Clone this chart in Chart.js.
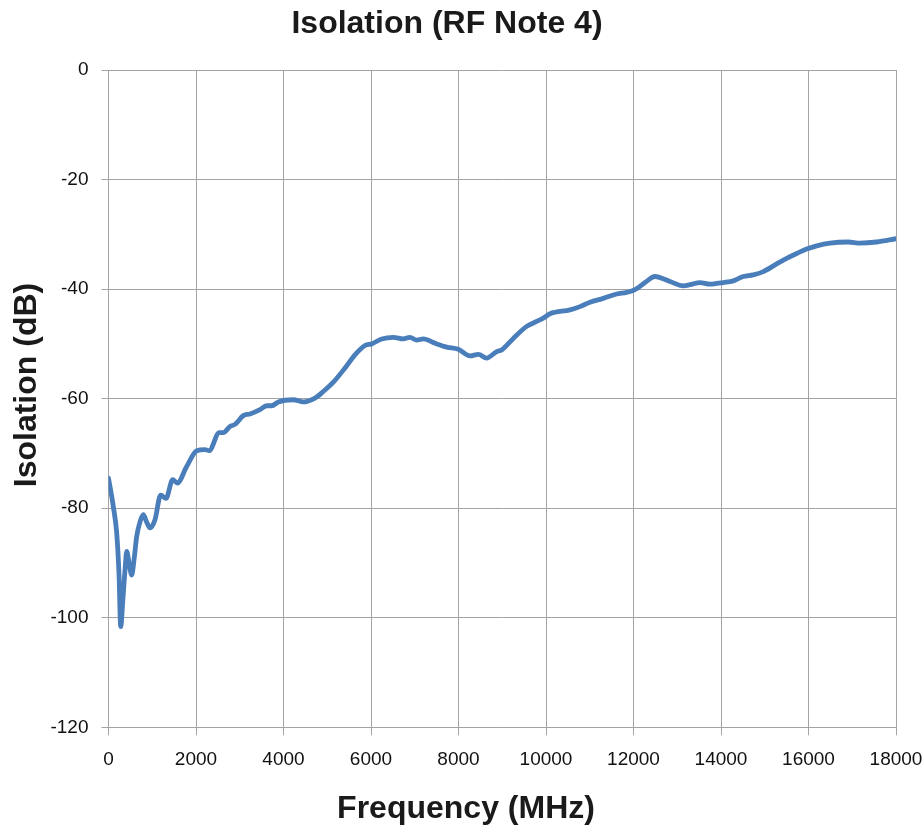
<!DOCTYPE html>
<html>
<head>
<meta charset="utf-8">
<script src="https://cdn.jsdelivr.net/npm/chart.js@4.4.1/dist/chart.umd.min.js"></script>
<style>
  html, body { margin: 0; padding: 0; background: #ffffff; }
  #c { display: block; }
</style>
</head>
<body>
<canvas id="c" width="923" height="829"></canvas>
<script>
const chartTitle = "Isolation (RF Note 4)";
const xAxisTitle = "Frequency (MHz)";
const yAxisTitle = "Isolation (dB)";

const frequencyMHz = [
  0, 110, 187, 240, 279, 330, 380, 416, 470, 530, 590, 644, 720, 796, 870, 949,
  1063, 1193, 1314, 1467, 1573, 1787, 2016, 2206, 2300, 2533, 2624, 2777, 2891,
  3082, 3234, 3463, 3616, 3730, 3882, 4224, 4453, 4720, 4910, 5139, 5406, 5634,
  5863, 6016, 6245, 6510, 6739, 6891, 7044, 7196, 7463, 7730, 7996, 8263, 8453,
  8644, 8873, 8987, 9253, 9558, 9787, 9939, 10091, 10549, 10777, 11006, 11310,
  11615, 11844, 12034, 12263, 12491, 12606, 12834, 13139, 13291, 13520, 13749,
  13939, 14053, 14282, 14510, 14739, 14967, 15272, 15501, 15730, 15958, 16187,
  16491, 16910, 17177, 17558, 18000
];
const isolationDb = [
  -74.5, -79.7, -84.5, -92.0, -101.6, -96.5, -91.0, -87.9, -90.0, -92.2, -89.0, -85.2, -82.5, -81.2, -82.5, -83.6,
  -82.1, -77.6, -78.2, -74.8, -75.4, -72.4, -69.5, -69.3, -69.5, -66.2, -66.2, -65.1, -64.7,
  -63.1, -62.8, -62.0, -61.3, -61.3, -60.6, -60.2, -60.6, -59.9, -58.7, -57.0, -54.4, -52.0,
  -50.3, -50.0, -49.1, -48.8, -49.1, -48.8, -49.3, -49.1, -49.9, -50.6, -51.0, -52.2, -51.9,
  -52.6, -51.4, -51.1, -49.0, -46.8, -45.9, -45.3, -44.5, -43.8, -43.2, -42.4, -41.7,
  -40.9, -40.6, -40.1, -38.8, -37.7, -37.9, -38.6, -39.4, -39.2, -38.8, -39.1,
  -38.9, -38.8, -38.5, -37.7, -37.4, -36.8, -35.4, -34.4, -33.5, -32.7, -32.1,
  -31.6, -31.4, -31.6, -31.4, -30.8
];
const xTickValues = [0, 2000, 4000, 6000, 8000, 10000, 12000, 14000, 16000, 18000];
const yTickValues = [-120, -100, -80, -60, -40, -20, 0];

const points = frequencyMHz.map((f, i) => ({ x: f, y: isolationDb[i] }));

const gridColor = '#a3a3a3';
const tickFont = { family: "'Liberation Sans', Arial, sans-serif", size: 19 };

const titlesPlugin = {
  id: 'titles',
  afterDraw(chart) {
    const ctx = chart.ctx;
    ctx.save();
    ctx.fillStyle = '#1a1a1a';
    ctx.font = "bold 32px 'Liberation Sans', Arial, sans-serif";
    ctx.textAlign = 'center';
    ctx.textBaseline = 'alphabetic';
    ctx.fillText(chartTitle, 447, 33);
    ctx.fillText(xAxisTitle, 466, 818);
    ctx.translate(36, 385);
    ctx.rotate(-Math.PI / 2);
    ctx.fillText(yAxisTitle, 0, 0);
    ctx.restore();
  }
};

new Chart(document.getElementById('c'), {
  type: 'line',
  data: {
    datasets: [{
      data: points,
      borderColor: '#4a7ebb',
      borderWidth: 4.8,
      pointRadius: 0,
      fill: false,
      cubicInterpolationMode: 'monotone',
      borderCapStyle: 'round',
      borderJoinStyle: 'round'
    }]
  },
  options: {
    responsive: false,
    animation: false,
    devicePixelRatio: 1,
    layout: { padding: { left: 0, right: 27, top: 70, bottom: 0 } },
    plugins: {
      legend: { display: false },
      title: { display: false },
      tooltip: { enabled: false }
    },
    scales: {
      x: {
        type: 'linear',
        min: 0,
        max: 18000,
        afterBuildTicks(scale) { scale.ticks = xTickValues.map(v => ({ value: v })); },
        afterFit(scale) { scale.height = 101.7; scale.paddingLeft = 0; scale.paddingRight = 0; },
        grid: { color: gridColor, lineWidth: 1, tickLength: 8, drawTicks: true },
        border: { color: gridColor, width: 1 },
        ticks: {
          color: '#111111',
          font: tickFont,
          padding: 13,
          maxRotation: 0,
          autoSkip: false,
          callback: v => String(v)
        }
      },
      y: {
        type: 'linear',
        min: -120,
        max: 0,
        afterBuildTicks(scale) { scale.ticks = yTickValues.map(v => ({ value: v })); },
        afterFit(scale) { scale.width = 108.5; scale.paddingTop = 0; scale.paddingBottom = 0; },
        grid: { color: gridColor, lineWidth: 1, tickLength: 7, drawTicks: true },
        border: { color: gridColor, width: 1 },
        ticks: {
          color: '#111111',
          font: tickFont,
          padding: 13,
          autoSkip: false,
          callback: v => String(v)
        }
      }
    }
  },
  plugins: [titlesPlugin]
});
</script>
</body>
</html>
